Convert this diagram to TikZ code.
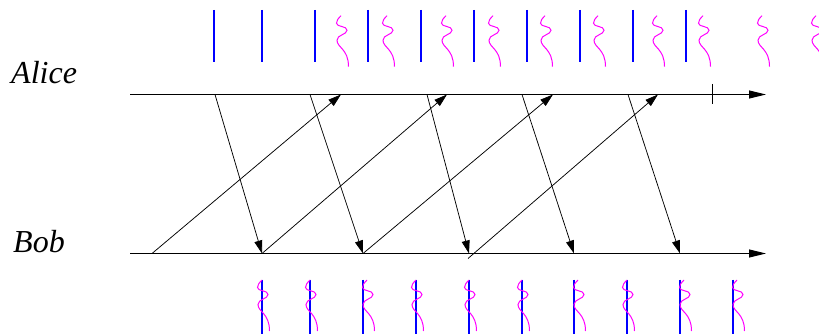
\documentclass[tikz,border=0pt]{standalone}
\usepackage{fontspec}
\setmainfont{Liberation Serif}
\usetikzlibrary{arrows.meta}
\definecolor{wavecol}{RGB}{255,0,255}
\definecolor{qcol}{RGB}{0,0,255}
\begin{document}
\begin{tikzpicture}[x=1pt,y=-1pt,
  axis/.style={line width=0.9pt,-{Triangle[length=17pt,width=8pt]}},
  msg/.style={line width=0.75pt,-{Triangle[length=13pt,width=8pt]}},
  plain/.style={line width=0.8pt},
  qbit/.style={draw=qcol,line width=1.1pt},
  wave/.style={draw=wavecol,line width=1pt},
  lbl/.style={font=\fontsize{32}{37}\selectfont\itshape,anchor=base west,inner sep=0pt},
  squig/.pic={\draw[wave] (0,0) .. controls (-3,3) and (-4.5,5) .. (-4.5,7.5)
     .. controls (-4.5,11.5) and (6,10) .. (6,14.5)
     .. controls (6,19) and (-4,19) .. (-4,24.5)
     .. controls (-4,32) and (7.5,33) .. (7.5,51);}
]
\path[use as bounding box] (0,0) rectangle (819,334);

% labels
\node[lbl] (alice) at (11,83.3) {Alice};
\node[lbl] (bob) at (13,252) {Bob};

% time axes
\coordinate (a0) at (130,94.5);
\coordinate (a1) at (766,94.5);
\coordinate (b0) at (130,253.5);
\coordinate (b1) at (766,253.5);
\draw[axis] (a0) -- (a1);
\draw[axis] (b0) -- (b1);

% tick on Alice's axis
\coordinate (t0) at (712,84);
\coordinate (t1) at (712,104.5);
\draw[plain] (t0) -- (t1);

% Alice -> Bob
\foreach \s/\e in {215/262,310/363,427/469,522/574,628/680}{
  \coordinate (d\s) at (\s,94.5);
  \coordinate (r\e) at (\e,253.5);
  \draw[msg] (d\s) -- (r\e);
}
% Bob -> Alice
\foreach \s/\e in {152/341,262/447,363/553}{
  \coordinate (u\s) at (\s,253.5);
  \coordinate (v\e) at (\e,94.5);
  \draw[msg] (u\s) -- (v\e);
}
\coordinate (u468) at (468,258.5);
\coordinate (v658) at (658,94.5);
\draw[msg] (u468) -- (v658);

% Alice's sequence
\foreach \x in {214,262,315,368,421,474,527,580,633,686}
  \draw[qbit] (\x,10) -- (\x,62);
\foreach \x in {341,387,446,493,545,598,657,703,762,816}
  \pic at (\x,15.7) {squig};

% Bob's sequence
\foreach \x in {262,310,363,416,469,522,574,627,680,733}
  \draw[qbit] (\x,279.5) -- (\x,334);
\foreach \x in {262,310,416,469,522,627}
  \pic at (\x,280) {squig};
\foreach \x in {363,574,680,733}
  \pic at (\x+4,280) {squig};
\end{tikzpicture}
\end{document}
